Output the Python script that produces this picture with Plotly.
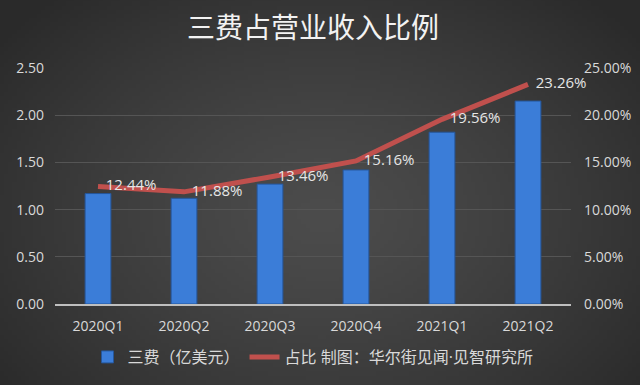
import base64, struct, zlib
import plotly.graph_objects as go

categories = ["2020Q1", "2020Q2", "2020Q3", "2020Q4", "2021Q1", "2021Q2"]
cost_values = [1.17, 1.12, 1.27, 1.42, 1.82, 2.15]
ratio_values = [0.1244, 0.1188, 0.1346, 0.1516, 0.1956, 0.2326]
ratio_labels = ["12.44%", "11.88%", "13.46%", "15.16%", "19.56%", "23.26%"]
left_ticks = [0, 0.5, 1.0, 1.5, 2.0, 2.5]
right_ticks = [0, 0.05, 0.10, 0.15, 0.20, 0.25]

W, H = 640, 385
ML, MR, MT, MB = 55, 69, 68, 81

# radial gradient background as a small PNG
def make_png(w, h):
    rows = b""
    cx, cy = w / 2, h * 0.55
    for y in range(h):
        row = b"\x00"
        for x in range(w):
            d = (((x - cx) / (w * 0.62)) ** 2 + ((y - cy) / (h * 0.75)) ** 2) ** 0.5
            d = min(d, 1.0)
            v = int(76 - (76 - 42) * d ** 1.3)
            row += bytes((v, v, v))
        rows += row
    def chunk(t, data):
        c = struct.pack(">I", len(data)) + t + data
        return c + struct.pack(">I", zlib.crc32(t + data) & 0xFFFFFFFF)
    png = b"\x89PNG\r\n\x1a\n"
    png += chunk(b"IHDR", struct.pack(">IIBBBBB", w, h, 8, 2, 0, 0, 0))
    png += chunk(b"IDAT", zlib.compress(rows, 9))
    png += chunk(b"IEND", b"")
    return "data:image/png;base64," + base64.b64encode(png).decode()

bg = make_png(160, 96)
pw, ph = W - ML - MR, H - MT - MB

fig = go.Figure()
fig.add_trace(go.Bar(
    x=categories, y=cost_values, name="三费（亿美元）",
    marker=dict(color="#3b7dd8", line=dict(color="#25569a", width=1)),
    yaxis="y",
))
fig.add_trace(go.Scatter(
    x=categories, y=ratio_values, name="占比 制图：华尔街见闻·见智研究所",
    mode="lines+text", text=["  " + t for t in ratio_labels], textposition="middle right",
    textfont=dict(color="#e6e6e6", size=15, family="Open Sans, Noto Sans"),
    line=dict(color="#c0504d", width=5),
    yaxis="y2", cliponaxis=False,
))

fig.update_layout(
    width=W, height=H,
    margin=dict(l=ML, r=MR, t=MT, b=MB, autoexpand=False),
    paper_bgcolor="#2a2a2a", plot_bgcolor="rgba(0,0,0,0)",
    images=[dict(source=bg, xref="paper", yref="paper",
                 x=-ML / pw - 0.02, y=1 + MT / ph + 0.02, sizex=W / pw + 0.04, sizey=H / ph + 0.04,
                 sizing="stretch", layer="below", xanchor="left", yanchor="top")],
    title=dict(text="三费占营业收入比例", x=0.5, xref="paper", xanchor="center",
               y=1 - 28 / H, yref="container", yanchor="middle",
               font=dict(size=28, color="#f2f2f2", family="Noto Sans CJK SC")),
    font=dict(family="Open Sans, Noto Sans CJK SC", color="#d9d9d9", size=13),
    bargap=0.7,
    showlegend=True,
    legend=dict(orientation="h", x=0.5, xanchor="center", y=-(357 - 304) / ph, yanchor="middle",
                font=dict(size=16, color="#d9d9d9", family="Open Sans, Noto Sans CJK SC"),
                bgcolor="rgba(0,0,0,0)"),
    xaxis=dict(showgrid=False, showline=True, linecolor="#bfbfbf", linewidth=2,
               tickfont=dict(size=14, color="#d9d9d9"), ticks="", ticklabelstandoff=8),
    yaxis=dict(range=[0, 2.5], tickvals=left_ticks, tickformat=".2f",
               showgrid=True, gridcolor="#555555", gridwidth=1, zeroline=False,
               tickfont=dict(size=14, color="#d9d9d9"), ticks="", ticklabelstandoff=10),
    yaxis2=dict(range=[0, 0.25], tickvals=right_ticks, tickformat=".2%",
                overlaying="y", side="right", showgrid=False, zeroline=False,
                tickfont=dict(size=14, color="#d9d9d9"), ticks="", ticklabelstandoff=12),
)

fig.write_html("out.html", config={"displayModeBar": False},
               post_script="document.body.style.margin='0';")
